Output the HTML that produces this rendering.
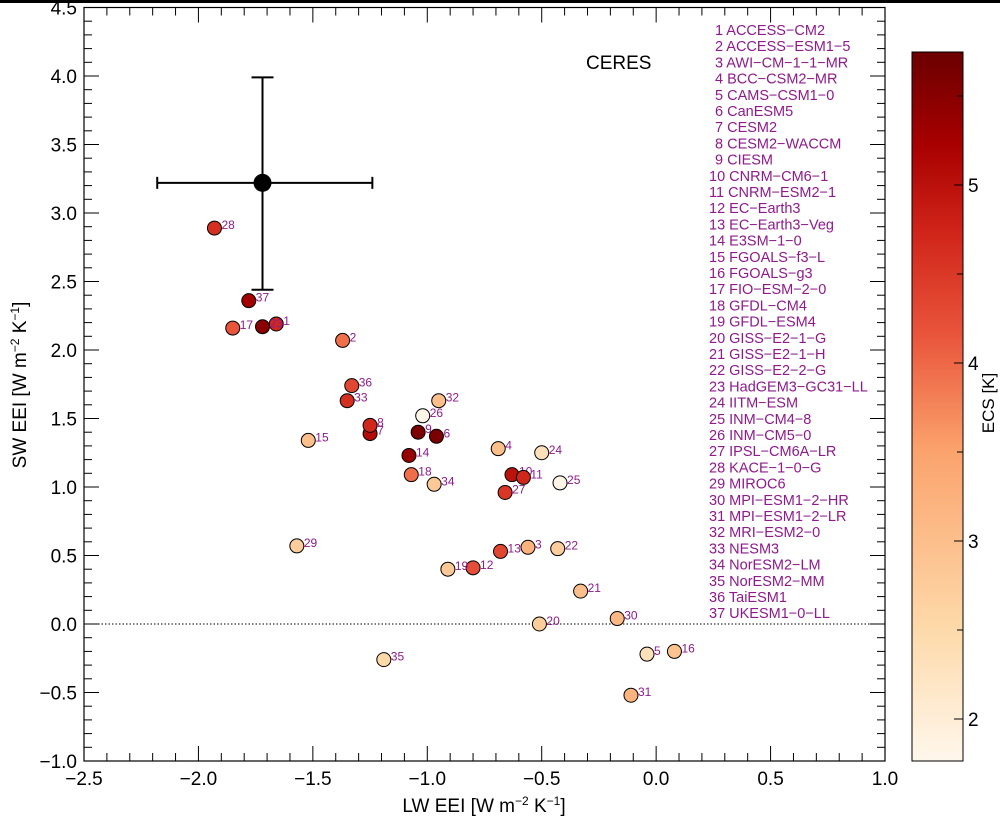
<!DOCTYPE html>
<html><head><meta charset="utf-8"><style>
body{margin:0;background:#fff;}
svg{display:block;font-family:"Liberation Sans",sans-serif;}
</style></head><body>
<svg id="chart" width="1000" height="817">
<defs>
<linearGradient id="cbgrad" x1="0" y1="1" x2="0" y2="0">
<stop offset="0" stop-color="#fff7ec"/>
<stop offset="0.19" stop-color="#fdd9a8"/>
<stop offset="0.44" stop-color="#fba26c"/>
<stop offset="0.6" stop-color="#e9553b"/>
<stop offset="0.75" stop-color="#cf2318"/>
<stop offset="0.87" stop-color="#a80000"/>
<stop offset="1" stop-color="#6b0000"/>
</linearGradient>
</defs>
<rect x="0" y="0" width="1000" height="3" fill="#000"/>
</svg>
<script>
const ids=[1,2,3,4,5,6,7,8,9,10,11,12,13,14,15,16,17,18,19,20,21,22,23,24,25,26,27,28,29,30,31,32,33,34,35,36,37];
const names=["ACCESS−CM2","ACCESS−ESM1−5","AWI−CM−1−1−MR","BCC−CSM2−MR","CAMS−CSM1−0","CanESM5","CESM2","CESM2−WACCM","CIESM","CNRM−CM6−1","CNRM−ESM2−1","EC−Earth3","EC−Earth3−Veg","E3SM−1−0","FGOALS−f3−L","FGOALS−g3","FIO−ESM−2−0","GFDL−CM4","GFDL−ESM4","GISS−E2−1−G","GISS−E2−1−H","GISS−E2−2−G","HadGEM3−GC31−LL","IITM−ESM","INM−CM4−8","INM−CM5−0","IPSL−CM6A−LR","KACE−1−0−G","MIROC6","MPI−ESM1−2−HR","MPI−ESM1−2−LR","MRI−ESM2−0","NESM3","NorESM2−LM","NorESM2−MM","TaiESM1","UKESM1−0−LL"];
const lw=[-1.66,-1.37,-0.56,-0.69,-0.04,-0.96,-1.25,-1.25,-1.04,-0.63,-0.58,-0.80,-0.68,-1.08,-1.52,0.08,-1.85,-1.07,-0.91,-0.51,-0.33,-0.43,-1.72,-0.50,-0.42,-1.02,-0.66,-1.93,-1.57,-0.17,-0.11,-0.95,-1.35,-0.97,-1.19,-1.33,-1.78];
const sw=[2.19,2.07,0.56,1.28,-0.22,1.37,1.39,1.45,1.40,1.09,1.07,0.41,0.53,1.23,1.34,-0.20,2.16,1.09,0.40,0.00,0.24,0.55,2.17,1.25,1.03,1.52,0.96,2.89,0.57,0.04,-0.52,1.63,1.63,1.02,-0.26,1.74,2.36];
const ecs=[4.7,3.9,3.2,3.0,2.3,5.6,5.1,4.7,5.6,5.0,4.7,4.2,4.3,5.4,3.0,2.9,4.1,3.9,2.8,2.7,3.0,2.7,5.5,2.3,1.8,1.8,4.5,4.6,2.7,3.1,3.2,3.0,4.6,2.8,2.5,4.3,5.3];
const obs=[-1.72,3.22];
const obsXErr=[-2.18,-1.24];
const obsYErr=[2.44,3.99];
const xTicks=[-2.5,-2.0,-1.5,-1.0,-0.5,0.0,0.5,1.0];
const yTicks=[-1.0,-0.5,0.0,0.5,1.0,1.5,2.0,2.5,3.0,3.5,4.0,4.5];
const cbTicks=[2,3,4,5];

const NS="http://www.w3.org/2000/svg";
const svg=document.getElementById('chart');
const X0=84,X1=885,Y0=7.5,Y1=761;
const xs=v=>X0+(v+2.5)/3.5*(X1-X0);
const ys=v=>624-137*v;
const CBX=912,CBW=51,CBT=52,CBB=761;
const cs=v=>185-(v-5)*178;
function el(t,a,p){const e=document.createElementNS(NS,t);for(const k in a)e.setAttribute(k,a[k]);(p||svg).appendChild(e);return e;}
function fmt(v){return (v<0?"−":"")+Math.abs(v).toFixed(1);}
const stops=[[1.75,[255,247,236]],[2.5,[253,217,168]],[3.5,[251,162,108]],[4.1,[233,85,59]],[4.75,[207,35,24]],[5.25,[168,0,0]],[5.75,[107,0,0]]];
function color(v){if(v<=stops[0][0])return `rgb(${stops[0][1]})`;for(let i=1;i<stops.length;i++){if(v<=stops[i][0]){const a=stops[i-1],b=stops[i],t=(v-a[0])/(b[0]-a[0]);return `rgb(${a[1].map((c,j)=>Math.round(c+(b[1][j]-c)*t)).join(',')})`;}}return `rgb(${stops[stops.length-1][1]})`;}

const frame=el('rect',{x:X0,y:Y0,width:X1-X0,height:Y1-Y0,fill:'none',stroke:'#000','stroke-width':1.2});


const zl=el('line',{x1:X0,x2:X1,y1:ys(0),y2:ys(0),stroke:'#000','stroke-width':1,'stroke-dasharray':'1.5,2'});


for(let v=-2.5;v<=1.0001;v+=0.1){const x=xs(v);const maj=Math.abs(v*2-Math.round(v*2))<1e-6;const L=maj?15:8;
 el('line',{x1:x,x2:x,y1:Y1,y2:Y1-L,stroke:'#000','stroke-width':1});el('line',{x1:x,x2:x,y1:Y0,y2:Y0+L,stroke:'#000','stroke-width':1});}
for(const v of xTicks){const t=el('text',{x:xs(v),y:785,'font-size':19,'text-anchor':'middle'});t.textContent=fmt(v);
 
 }
for(let v=-1.0;v<=4.5001;v+=0.1){const y=ys(v);const maj=Math.abs(v*2-Math.round(v*2))<1e-6;const L=maj?15:8;
 el('line',{x1:X0,x2:X0+L,y1:y,y2:y,stroke:'#000','stroke-width':1});el('line',{x1:X1,x2:X1-L,y1:y,y2:y,stroke:'#000','stroke-width':1});}
for(const v of yTicks){const t=el('text',{x:77,y:ys(v)+7,'font-size':19,'text-anchor':'end'});t.textContent=fmt(v);
 
 }
const xt=el('text',{x:484,y:812,'font-size':19,'text-anchor':'middle'});xt.innerHTML='LW EEI [W m<tspan dy="-7" font-size="12">−2</tspan><tspan dy="7"> K</tspan><tspan dy="-7" font-size="12">−1</tspan><tspan dy="7">]</tspan>';


const yt=el('text',{x:0,y:0,'font-size':19,'text-anchor':'middle',transform:'translate(26,385) rotate(-90)'});yt.innerHTML='SW EEI [W m<tspan dy="-7" font-size="12">−2</tspan><tspan dy="7"> K</tspan><tspan dy="-7" font-size="12">−1</tspan><tspan dy="7">]</tspan>';



const og=el('g',{});


el('line',{x1:xs(obsXErr[0]),x2:xs(obsXErr[1]),y1:ys(obs[1]),y2:ys(obs[1]),stroke:'#000','stroke-width':2},og);
el('line',{x1:xs(obs[0]),x2:xs(obs[0]),y1:ys(obsYErr[0]),y2:ys(obsYErr[1]),stroke:'#000','stroke-width':2},og);
for(const v of obsXErr)el('line',{x1:xs(v),x2:xs(v),y1:ys(obs[1])-6,y2:ys(obs[1])+6,stroke:'#000','stroke-width':2},og);
for(const v of obsYErr)el('line',{x1:xs(obs[0])-11,x2:xs(obs[0])+11,y1:ys(v),y2:ys(v),stroke:'#000','stroke-width':2},og);
el('circle',{cx:xs(obs[0]),cy:ys(obs[1]),r:9,fill:'#000'},og);
const ct=el('text',{x:586,y:69,'font-size':19});ct.textContent='CERES';



for(let i=0;i<ids.length;i++){
 const c=el('circle',{cx:xs(lw[i]),cy:ys(sw[i]),r:7,fill:color(ecs[i]),stroke:'#000','stroke-width':1});
 
 
 const t=el('text',{x:xs(lw[i])+7,y:ys(sw[i])+1,'font-size':12,fill:'#8e1a8c'});t.textContent=ids[i];
 
 
}
for(let i=0;i<names.length;i++){
 const t=el('text',{x:ids[i]<10?715:709,y:35+i*16.2,'font-size':14.5,fill:'#8e1a8c'});t.textContent=ids[i]+' '+names[i];
 
 
}
const cb=el('rect',{x:CBX,y:CBT,width:CBW,height:CBB-CBT,fill:'url(#cbgrad)',stroke:'#000','stroke-width':1});


for(let v=2;v<=5.5;v+=0.5){const y=cs(v);const maj=Number.isInteger(v);el('line',{x1:CBX+CBW-(maj?9:6),x2:CBX+CBW,y1:y,y2:y,stroke:'#000','stroke-width':1});}
for(const v of cbTicks){const t=el('text',{x:968,y:cs(v)+7,'font-size':19});t.textContent=v;
 
 }
const cbt=el('text',{x:0,y:0,'font-size':17,'text-anchor':'middle',transform:'translate(994,403) rotate(-90)'});cbt.textContent='ECS [K]';


</script>
</body></html>
